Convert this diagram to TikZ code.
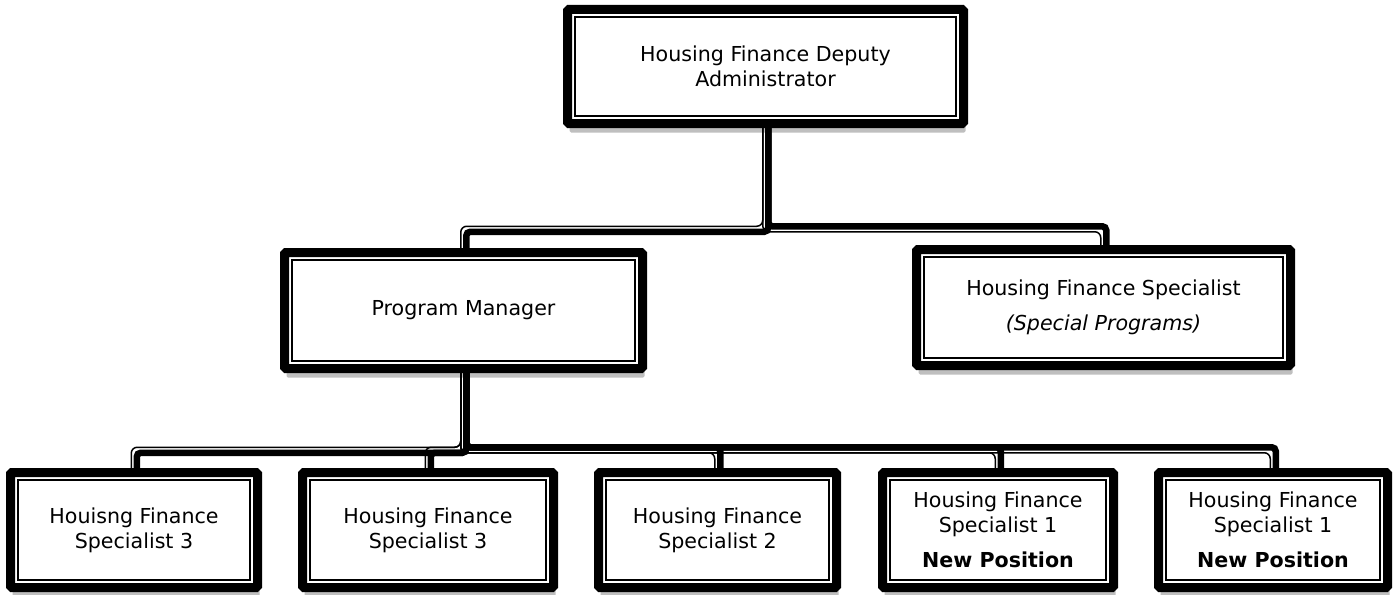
\documentclass[tikz,border=0pt]{standalone}
\usepackage{fontspec}
\setmainfont{DejaVu Sans}
\usetikzlibrary{shadows}

\tikzset{
  orgbox/.style={draw, line width=9pt, rounded corners=1.5pt, fill=white, align=center,
    font=\fontsize{20.6}{25}\selectfont,
    drop shadow={shadow xshift=2pt, shadow yshift=-9pt, opacity=.25, fill=black}},
  orgframe/.style={line width=1.8pt},
  wirethick/.style={line width=6.5pt, rounded corners=4pt},
  wirethin/.style={line width=1.5pt, rounded corners=6pt}
}

% parent, child, drop to the bus, +1 going west / -1 going east
\newcommand{\orgwire}[4]{%
  \draw[wirethick] ([xshift=2.75pt]#1.south) -- ++(0,{#3+(#4)*2.75}) -| ([xshift=2.75pt]#2.north);
  \draw[wirethin] ([xshift=-2.75pt]#1.south) -- ++(0,{#3-(#4)*2.75}) -| ([xshift=-2.75pt]#2.north);}

\begin{document}
\begin{tikzpicture}[x=1pt,y=-1pt]
\useasboundingbox (0,0) rectangle (1394,594);

\node [orgbox, minimum width=396, minimum height=114] (admin) at (765.5,66.5)
  {Housing Finance Deputy\\Administrator};

\node [orgbox, minimum width=358, minimum height=116] (manager) at (463.5,310.5)
  {Program Manager};
\node [orgbox, minimum width=374, minimum height=116] (special) at (1103.5,307.5)
  {Housing Finance Specialist\\[10pt]\textit{(Special Programs)}};

\node [orgbox, minimum width=247, minimum height=115] (specA) at (134,530)
  {Houisng Finance\\Specialist 3};
\node [orgbox, minimum width=251, minimum height=115] (specB) at (428,530)
  {Housing Finance\\Specialist 3};
\node [orgbox, minimum width=238, minimum height=115] (specC) at (717.5,530)
  {Housing Finance\\Specialist 2};
\node [orgbox, minimum width=231, minimum height=115] (specD) at (998,530)
  {Housing Finance\\Specialist 1\\[10pt]\textbf{New Position}};
\node [orgbox, minimum width=229, minimum height=115] (specE) at (1273,530)
  {Housing Finance\\Specialist 1\\[10pt]\textbf{New Position}};

% thin inner frame of each box
\foreach \b in {admin,manager,special,specA,specB,specC,specD,specE}
  \draw [orgframe] ([shift={(12.25,12.25)}]\b.north west) rectangle ([shift={(-12.25,-12.25)}]\b.south east);

\orgwire{admin}{manager}{101}{1}
\orgwire{admin}{special}{101}{-1}

\orgwire{manager}{specA}{77}{1}
\orgwire{manager}{specB}{77}{1}
\orgwire{manager}{specC}{77}{-1}
\orgwire{manager}{specD}{77}{-1}
\orgwire{manager}{specE}{77}{-1}
\end{tikzpicture}
\end{document}
